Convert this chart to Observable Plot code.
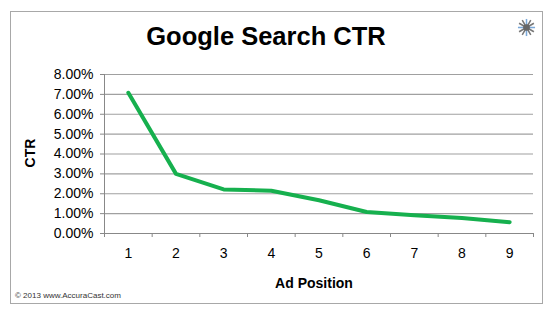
<!DOCTYPE html>
<html>
<head>
<meta charset="utf-8">
<script src="https://cdn.jsdelivr.net/npm/d3@7"></script>
<script src="https://cdn.jsdelivr.net/npm/@observablehq/plot@0.6"></script>
<style>
  html, body { margin: 0; padding: 0; background: #fff; }
  #wrap { position: relative; width: 556px; height: 320px; overflow: hidden; font-family: "Liberation Sans", Arial, sans-serif; }
  #frame { position: absolute; left: 10px; top: 11px; width: 533px; height: 293px; border: 1px solid #a8a8a8; box-sizing: border-box; }
  #title { position: absolute; left: 0; width: 532px; top: 22px; text-align: center; font-weight: bold; font-size: 25.5px; color: #000; }
  #ytitle { position: absolute; left: 30px; top: 153px; transform: translate(-50%, -50%) rotate(-90deg); font-weight: bold; font-size: 14px; }
  #xtitle { position: absolute; left: 314px; top: 283px; transform: translate(-50%, -50%); font-weight: bold; font-size: 14px; }
  #caption { position: absolute; left: 15px; top: 291px; font-size: 8px; color: #333; }
  #star { position: absolute; left: 517px; top: 18px; }
  #chart { position: absolute; left: 0; top: 0; }
</style>
</head>
<body>
<div id="wrap">
  <div id="frame"></div>
  <div id="chart"></div>
  <div id="title">Google Search CTR</div>
  <div id="ytitle">CTR</div>
  <div id="xtitle">Ad Position</div>
  <div id="caption">© 2013 www.AccuraCast.com</div>
  <svg id="star" width="19" height="19" viewBox="-10 -10 20 20"></svg>
</div>
<script>
// Data
const positions = [1, 2, 3, 4, 5, 6, 7, 8, 9];
const ctr = [0.0708, 0.0300, 0.0222, 0.0215, 0.0167, 0.0108, 0.0092, 0.0078, 0.0057];
const yTicks = [0, 0.01, 0.02, 0.03, 0.04, 0.05, 0.06, 0.07, 0.08];
const xBoundaries = [0.5, 1.5, 2.5, 3.5, 4.5, 5.5, 6.5, 7.5, 8.5, 9.5];

const data = positions.map((p, i) => ({position: p, ctr: ctr[i]}));

const chart = Plot.plot({
  width: 556,
  height: 320,
  marginLeft: 104,
  marginRight: 23,
  marginTop: 74,
  marginBottom: 87,
  style: {fontFamily: "'Liberation Sans', Arial, sans-serif", fontSize: "14px", color: "#000", background: "transparent"},
  x: {type: "linear", domain: [xBoundaries[0], xBoundaries[xBoundaries.length - 1]]},
  y: {domain: [yTicks[0], yTicks[yTicks.length - 1]]},
  marks: [
    Plot.gridY(yTicks, {stroke: "#a0a0a0", strokeOpacity: 1, strokeWidth: 1.2}),
    Plot.axisY(yTicks, {tickFormat: d3.format(".2%"), tickSize: 4, tickPadding: 7, stroke: "#888", fontSize: 14, label: null, fill: "#000"}),
    Plot.axisX(xBoundaries, {tickSize: 4, text: null, stroke: "#888", label: null}),
    Plot.axisX(positions, {tickSize: 0, tickPadding: 15, fontSize: 14, label: null, fill: "#000", tickFormat: d => String(d)}),
    Plot.frame({anchor: "left", stroke: "#888"}),
    Plot.frame({anchor: "bottom", stroke: "#888"}),
    Plot.line(data, {x: "position", y: "ctr", stroke: "#16b04e", strokeWidth: 4, strokeLinejoin: "round"})
  ]
});
document.getElementById("chart").appendChild(chart);

// decorative star
const star = d3.select("#star");
const rays = d3.range(12);
star.selectAll("line").data(rays).join("line")
  .attr("x1", 0).attr("y1", 0)
  .attr("x2", d => 9 * Math.cos(d * Math.PI / 6))
  .attr("y2", d => 9 * Math.sin(d * Math.PI / 6))
  .attr("stroke", d => d % 3 === 0 ? "#7aa8d8" : "#777")
  .attr("stroke-width", 1.6);
star.append("circle").attr("r", 3.5).attr("fill", "#666");
</script>
</body>
</html>
